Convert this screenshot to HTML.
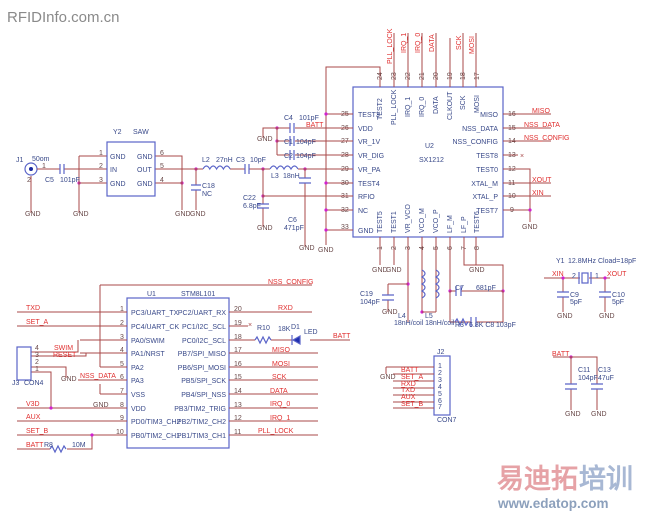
<!DOCTYPE html>
<html><head><meta charset="utf-8"><style>
html,body{margin:0;padding:0;background:#fff;}
svg{display:block;}
text{font-family:"Liberation Sans",sans-serif;}
.w{stroke:#a84848;stroke-width:1;fill:none;}
.b{stroke:#5a64c8;stroke-width:1.2;fill:none;}
.t{fill:#3a4a8a;font-size:7px;}
.r{fill:#e03030;font-size:7px;}
.n{fill:#6a4a4a;font-size:7px;}
.d{fill:#d020d0;}
</style></head><body>
<svg width="649" height="514" viewBox="0 0 649 514" xmlns="http://www.w3.org/2000/svg">
<text x="7" y="22" font-size="15" fill="#8a8a8a">RFIDInfo.com.cn</text>

<!-- U2 SX1212 -->
<rect x="353" y="87" width="150" height="150" class="b"/>
<text x="425" y="148" class="t">U2</text><text x="419" y="162" class="t">SX1212</text>
<g class="w">
<path d="M380 87V67H326V245"/>
<path d="M394 87V33M408 87V33M422 87V33M436 87V33M450 87V38M463 87V33M476 87V33"/>
<path d="M326 114H353M326 128H353M326 141H353M326 155H353M326 169H353M326 183H353M326 196H353M326 210H353M326 230H353"/>
<path d="M503 114H551M503 128H551M503 141H551M503 155H518M503 169H530V222M503 183H551M503 196H551M503 210H530"/>
<path d="M380 237V265M394 237V265M408 237V312M422 237V312M436 237V312M450 237V312M464 237V265H503V312M476 237V265"/>
</g>
<g class="t" font-size="6.5">
<text x="358" y="117">TEST3</text><text x="358" y="131">VDD</text><text x="358" y="144">VR_1V</text><text x="358" y="158">VR_DIG</text><text x="358" y="172">VR_PA</text><text x="358" y="186">TEST4</text><text x="358" y="199">RFIO</text><text x="358" y="213">NC</text><text x="358" y="233">GND</text>
<text x="498" y="117" text-anchor="end">MISO</text><text x="498" y="131" text-anchor="end">NSS_DATA</text><text x="498" y="144" text-anchor="end">NSS_CONFIG</text><text x="498" y="158" text-anchor="end">TEST8</text><text x="498" y="172" text-anchor="end">TEST0</text><text x="498" y="186" text-anchor="end">XTAL_M</text><text x="498" y="199" text-anchor="end">XTAL_P</text><text x="498" y="213" text-anchor="end">TEST7</text>
</g>
<g class="n" font-size="6.5">
<text x="341" y="116">25</text><text x="341" y="130">26</text><text x="341" y="143">27</text><text x="341" y="157">28</text><text x="341" y="171">29</text><text x="341" y="185">30</text><text x="341" y="198">31</text><text x="341" y="212">32</text><text x="341" y="229">33</text>
<text x="508" y="116">16</text><text x="508" y="130">15</text><text x="508" y="143">14</text><text x="508" y="157">13</text><text x="508" y="171">12</text><text x="508" y="185">11</text><text x="508" y="198">10</text><text x="510" y="212">9</text>
</g>
<g class="r"><text x="532" y="113">MISO</text><text x="524" y="127">NSS_DATA</text><text x="524" y="140">NSS_CONFIG</text><text x="532" y="182">XOUT</text><text x="532" y="195">XIN</text><text x="520" y="158" fill="#a84848">×</text></g>
<g transform="rotate(-90)" font-size="6.5">
<g class="t"><text x="-120" y="382">TEST2</text><text x="-125" y="396">PLL_LOCK</text><text x="-117" y="410">IRQ_1</text><text x="-117" y="424">IRQ_0</text><text x="-114" y="438">DATA</text><text x="-120" y="452">CLKOUT</text><text x="-110" y="465">SCK</text><text x="-113" y="479">MOSI</text>
<text x="-233" y="382">TEST5</text><text x="-233" y="396">TEST1</text><text x="-233" y="410">VR_VCO</text><text x="-233" y="424">VCO_M</text><text x="-233" y="438">VCO_P</text><text x="-233" y="452">LF_M</text><text x="-233" y="466">LF_P</text><text x="-233" y="479">TEST6</text></g>
<g class="r"><text x="-64" y="392">PLL_LOCK</text><text x="-53" y="406">IRQ_1</text><text x="-53" y="420">IRQ_0</text><text x="-52" y="434">DATA</text><text x="-50" y="461">SCK</text><text x="-54" y="474">MOSI</text></g>
<g class="n"><text x="-80" y="382">24</text><text x="-80" y="396">23</text><text x="-80" y="410">22</text><text x="-80" y="424">21</text><text x="-80" y="438">20</text><text x="-80" y="452">19</text><text x="-80" y="465">18</text><text x="-80" y="479">17</text>
<text x="-250" y="382">1</text><text x="-250" y="396">2</text><text x="-250" y="410">3</text><text x="-250" y="424">4</text><text x="-250" y="438">5</text><text x="-250" y="452">6</text><text x="-250" y="466">7</text><text x="-250" y="479">8</text></g>
</g>
<g class="d"><circle cx="326" cy="114" r="1.6"/><circle cx="326" cy="183" r="1.6"/><circle cx="326" cy="210" r="1.6"/><circle cx="326" cy="230" r="1.6"/><circle cx="530" cy="210" r="1.6"/><circle cx="277" cy="128" r="1.6"/><circle cx="277" cy="141" r="1.6"/><circle cx="263" cy="169" r="1.6"/><circle cx="263" cy="196" r="1.6"/><circle cx="305" cy="169" r="1.6"/><circle cx="196" cy="169" r="1.6"/><circle cx="182" cy="183" r="1.6"/><circle cx="79" cy="183" r="1.6"/><circle cx="408" cy="284" r="1.6"/><circle cx="422" cy="312" r="1.6"/><circle cx="450" cy="291" r="1.6"/><circle cx="503" cy="291" r="1.6"/></g>
<g class="n" font-size="6.5"><text x="372" y="272">GND</text><text x="386" y="272">GND</text><text x="469" y="272">GND</text><text x="522" y="229">GND</text><text x="318" y="252">GND</text></g>

<!-- RF chain -->
<circle cx="31" cy="169" r="6" class="b"/><circle cx="31" cy="169" r="2" fill="#1a2aa0"/>
<text x="16" y="162" class="t">J1</text><text x="32" y="161" class="t">50om</text><text x="42" y="168" class="n">1</text><text x="27" y="182" class="n">2</text>
<g class="w"><path d="M31 176V213M37 169H60M64 169H107M79 156H107M79 156V213M79 183H107M155 156H182V210M155 169H203M155 183H182M196 169V185M196 190V210M230 169H245M249 169H270M298 169H353M263 169V204M263 208V227M263 196H353M305 169V178M305 183V247"/>
<path d="M263 138V128H290M295 128H353M277 128V155M277 141H290M295 141H353M277 155H290M295 155H353"/></g>
<g class="b"><path d="M60 164V174M64 164V174M245 164V174M249 164V174M191 185H201M191 190H201M257 204H269M257 208H269M299 178H311M299 183H311M290 123V133M294 123V133M290 136V146M294 136V146M290 150V160M294 150V160"/>
<rect x="107" y="142" width="48" height="54"/>
<path d="M203 169q3.4-6 6.8 0q3.4-6 6.8 0q3.4-6 6.8 0q3.4-6 6.8 0M270 169q3.5-6 7 0q3.5-6 7 0q3.5-6 7 0q3.5-6 7 0"/></g>
<text x="45" y="182" class="t">C5</text><text x="60" y="182" class="t">101pF</text>
<text x="113" y="134" class="t">Y2</text><text x="133" y="134" class="t">SAW</text>
<g class="t"><text x="110" y="159">GND</text><text x="110" y="172">IN</text><text x="110" y="186">GND</text><text x="137" y="159">GND</text><text x="137" y="172">OUT</text><text x="137" y="186">GND</text>
<text x="202" y="162">L2</text><text x="216" y="162">27nH</text><text x="236" y="162">C3</text><text x="250" y="162">10pF</text><text x="271" y="178">L3</text><text x="283" y="178">18nH</text>
<text x="202" y="188">C18</text><text x="202" y="196">NC</text><text x="243" y="200">C22</text><text x="243" y="208">6.8pF</text><text x="288" y="222">C6</text><text x="284" y="230">471pF</text>
<text x="284" y="120">C4</text><text x="299" y="120">101pF</text><text x="284" y="144">C1</text><text x="296" y="144">104pF</text><text x="284" y="158">C2</text><text x="296" y="158">104pF</text></g>
<text x="306" y="127" class="r">BATT</text>
<g class="n" font-size="6.5"><text x="99" y="155">1</text><text x="99" y="168">2</text><text x="99" y="182">3</text><text x="160" y="155">6</text><text x="160" y="168">5</text><text x="160" y="182">4</text>
<text x="25" y="216">GND</text><text x="73" y="216">GND</text><text x="175" y="216">GND</text><text x="190" y="216">GND</text><text x="257" y="230">GND</text><text x="299" y="250">GND</text><text x="257" y="141">GND</text></g>

<!-- loop filter -->
<g class="w"><path d="M388 284H408M388 284V295M388 300V312M422 312H436M450 291H456M461 291H503M450 291V322H471M476 322H503V291M408 312V322"/></g>
<g class="b"><path d="M382 295H394M382 300H394M456 286V296M461 286V296M471 317V327M476 317V327"/>
<path d="M422 270q6 3.5 0 7q6 3.5 0 7q6 3.5 0 7q6 3.5 0 7M436 270q6 3.5 0 7q6 3.5 0 7q6 3.5 0 7q6 3.5 0 7"/>
<path d="M455 322l2-3 3 6 3-6 3 6 2-3"/></g>
<g class="t" font-size="6.5"><text x="360" y="296">C19</text><text x="360" y="304">104pF</text><text x="382" y="314" class="n">GND</text><text x="398" y="318">L4</text><text x="425" y="318">L5</text><text x="394" y="325">18nH/coil 18nH/coil</text><text x="455" y="327">R3</text><text x="469" y="327">6.8K C8</text><text x="496" y="327">103pF</text><text x="455" y="290">C7</text><text x="476" y="290">681pF</text></g>

<!-- Y1 -->
<g class="w"><path d="M544 278H580M589 278H610M563 278V292M563 297V312M605 278V292M605 297V312"/></g>
<g class="b"><rect x="582" y="273" width="6" height="10"/><path d="M579 272V284M591 272V284M557 292H569M557 297H569M599 292H611M599 297H611"/></g>
<g class="d"><circle cx="563" cy="278" r="1.6"/><circle cx="605" cy="278" r="1.6"/><circle cx="571" cy="357" r="1.6"/></g>
<text x="556" y="263" class="t" font-size="6.5">Y1</text><text x="568" y="263" class="t" font-size="6.5">12.8MHz Cload=18pF</text>
<text x="552" y="276" class="r">XIN</text><text x="607" y="276" class="r">XOUT</text>
<g class="t" font-size="6.5"><text x="572" y="278">2</text><text x="595" y="278">1</text><text x="570" y="297">C9</text><text x="570" y="304">5pF</text><text x="612" y="297">C10</text><text x="612" y="304">5pF</text><text x="557" y="318" class="n">GND</text><text x="599" y="318" class="n">GND</text></g>

<!-- C11 C13 -->
<g class="w"><path d="M553 357H597V384M571 357V384M571 389V410M597 389V410"/></g>
<g class="b"><path d="M565 384H577M565 389H577M591 384H603M591 389H603"/></g>
<text x="552" y="356" class="r">BATT</text>
<g class="t" font-size="6.5"><text x="578" y="372">C11</text><text x="578" y="380">104pF</text><text x="598" y="372">C13</text><text x="598" y="380">47uF</text><text x="565" y="416" class="n">GND</text><text x="591" y="416" class="n">GND</text></g>

<!-- J2 -->
<rect x="434" y="356" width="16" height="59" class="b"/>
<g class="w"><path d="M386 367H434M386 367V374M393 374H434M393 381H434M393 388H434M393 395H434M393 402H434M393 408H434"/></g>
<g class="r" font-size="6.5"><text x="401" y="372">BATT</text><text x="401" y="379">SET_A</text><text x="401" y="386">RXD</text><text x="401" y="392">TXD</text><text x="401" y="399">AUX</text><text x="401" y="406">SET_B</text></g>
<g class="t" font-size="6"><text x="438" y="368">1</text><text x="438" y="375">2</text><text x="438" y="382">3</text><text x="438" y="389">4</text><text x="438" y="396">5</text><text x="438" y="403">6</text><text x="438" y="409">7</text><text x="437" y="354">J2</text><text x="437" y="422">CON7</text><text x="380" y="379" class="n">GND</text></g>

<!-- U1 -->
<rect x="127" y="298" width="102" height="150" class="b"/>
<text x="147" y="296" class="t">U1</text><text x="181" y="296" class="t">STM8L101</text>
<g class="w"><path d="M17 312H127M17 326H127M80 340H127M80 353H127M100 367H127M78 380H127M100 394H127M17 408H127M17 421H127M17 435H127M100 285H312M100 285V367
M229 312H312M229 326H248M229 340H255M271 340H292M310 340H350M229 353H318M229 367H318M229 380H318M229 394H318M229 408H318M229 421H318M229 435H318
M31 352H78V340M31 356H86V353M31 367H66V378M31 372H51V408M17 449H50M67 449H92V435M100 384V394"/></g>
<g class="b"><rect x="17" y="347" width="14" height="33"/><path d="M255 340l2-3 3 6 3-6 3 6 3-6 2 3M50 449l2-3 3 6 3-6 3 6 3-6 2 3"/><path d="M300 336V344L293 340Z" fill="#2030b0"/><path d="M292 335V345"/></g>
<g class="d"><circle cx="51" cy="408" r="1.6"/><circle cx="92" cy="435" r="1.6"/></g>
<g class="t" font-size="6">
<text x="131" y="315">PC3/UART_TX</text><text x="131" y="329">PC4/UART_CK</text><text x="131" y="343">PA0/SWIM</text><text x="131" y="356">PA1/NRST</text><text x="131" y="370">PA2</text><text x="131" y="383">PA3</text><text x="131" y="397">VSS</text><text x="131" y="411">VDD</text><text x="131" y="424">PD0/TIM3_CH2</text><text x="131" y="438">PB0/TIM2_CH1</text>
<g text-anchor="end"><text x="226" y="315">PC2/UART_RX</text><text x="226" y="329">PC1/I2C_SCL</text><text x="226" y="343">PC0/I2C_SCL</text><text x="226" y="356">PB7/SPI_MISO</text><text x="226" y="370">PB6/SPI_MOSI</text><text x="226" y="383">PB5/SPI_SCK</text><text x="226" y="397">PB4/SPI_NSS</text><text x="226" y="411">PB3/TIM2_TRIG</text><text x="226" y="424">PB2/TIM2_CH2</text><text x="226" y="438">PB1/TIM3_CH1</text></g>
</g>
<g class="n" font-size="6.5"><text x="120" y="311">1</text><text x="120" y="325">2</text><text x="120" y="339">3</text><text x="120" y="352">4</text><text x="120" y="366">5</text><text x="120" y="379">6</text><text x="120" y="393">7</text><text x="120" y="407">8</text><text x="120" y="420">9</text><text x="116" y="434">10</text>
<text x="234" y="311">20</text><text x="234" y="325">19</text><text x="234" y="339">18</text><text x="234" y="352">17</text><text x="234" y="366">16</text><text x="234" y="379">15</text><text x="234" y="393">14</text><text x="234" y="407">13</text><text x="234" y="420">12</text><text x="234" y="434">11</text>
<text x="61" y="381">GND</text><text x="93" y="407">GND</text><text x="35" y="350">4</text><text x="35" y="357">3</text><text x="35" y="364">2</text><text x="35" y="371">1</text></g>
<g class="r"><text x="26" y="310">TXD</text><text x="26" y="324">SET_A</text><text x="268" y="284">NSS_CONFIG</text><text x="278" y="310">RXD</text><text x="54" y="350">SWIM</text><text x="53" y="357">RESET</text><text x="80" y="378">NSS_DATA</text><text x="26" y="406">V3D</text><text x="26" y="419">AUX</text><text x="26" y="433">SET_B</text>
<text x="272" y="352">MISO</text><text x="272" y="366">MOSI</text><text x="272" y="379">SCK</text><text x="270" y="393">DATA</text><text x="270" y="406">IRQ_0</text><text x="270" y="420">IRQ_1</text><text x="258" y="433">PLL_LOCK</text><text x="333" y="338">BATT</text><text x="26" y="447">BATT</text></g>
<g class="t" font-size="6.5"><text x="12" y="385">J3</text><text x="24" y="385">CON4</text><text x="257" y="330">R10</text><text x="278" y="331">18K</text><text x="291" y="329">D1</text><text x="304" y="334">LED</text><text x="44" y="447">R8</text><text x="72" y="447">10M</text><text x="248" y="327" fill="#a84848">×</text></g>

<text x="497" y="488" font-size="27" font-weight="bold" fill="#e6a2a6" font-family="'Noto Sans CJK SC',sans-serif">易迪拓</text>
<text x="579" y="488" font-size="27" font-weight="bold" fill="#a8b8d4" font-family="'Noto Sans CJK SC',sans-serif">培训</text>
<text x="498" y="508" font-size="13.5" font-weight="bold" fill="#8ca0bc">www.edatop.com</text>
</svg>
</body></html>
